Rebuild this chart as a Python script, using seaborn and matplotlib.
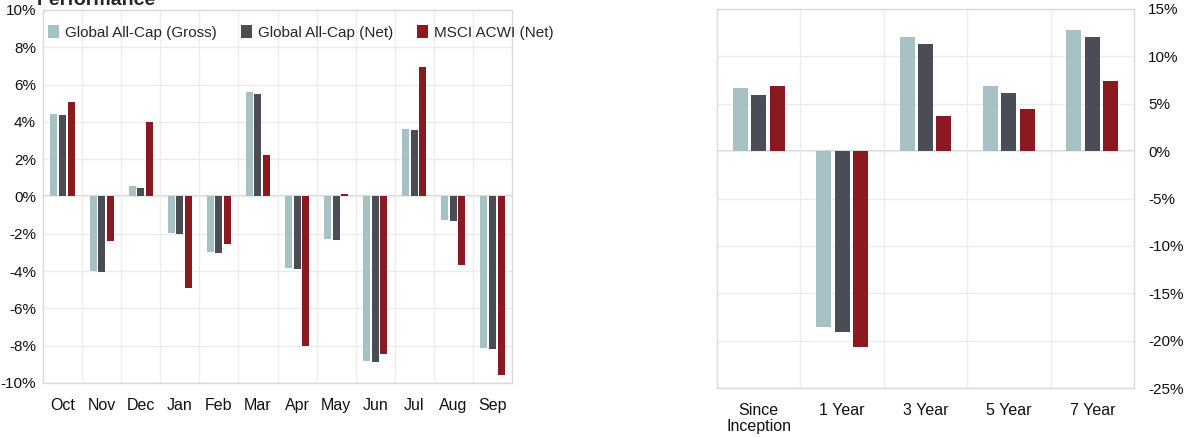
import numpy as np
import pandas as pd
import seaborn as sns
import matplotlib.pyplot as plt
from matplotlib import font_manager
from matplotlib.ticker import FuncFormatter, FixedLocator

sns.set_style('white')
names = {f.name for f in font_manager.fontManager.ttflist}
narrow = 'Liberation Sans Narrow' in names
plt.rcParams['font.family'] = ['Liberation Sans Narrow' if narrow else 'Liberation Sans', 'DejaVu Sans']
fs = 12.5 if narrow else 11

# monthly returns (%)
months = ['Oct', 'Nov', 'Dec', 'Jan', 'Feb', 'Mar', 'Apr', 'May', 'Jun', 'Jul', 'Aug', 'Sep']
gross_m = [4.41, -3.99, 0.54, -1.95, -2.95, 5.58, -3.83, -2.27, -8.83, 3.61, -1.25, -8.15]
net_m = [4.36, -4.04, 0.46, -2.00, -3.02, 5.52, -3.88, -2.33, -8.89, 3.57, -1.31, -8.20]
msci_m = [5.09, -2.41, 4.00, -4.90, -2.56, 2.20, -7.99, 0.12, -8.42, 6.97, -3.67, -9.56]

# annualised returns (%)
periods = ['Since\nInception', '1 Year', '3 Year', '5 Year', '7 Year']
gross_p = [6.70, -18.6, 12.0, 6.88, 12.8]
net_p = [5.93, -19.1, 11.3, 6.18, 12.04]
msci_p = [6.88, -20.7, 3.72, 4.42, 7.40]

series = ['Global All-Cap (Gross)', 'Global All-Cap (Net)', 'MSCI ACWI (Net)']
colors = ['#A6C1C4', '#4A4D56', '#8A1A20']


def long_df(cats, *vals):
    rows = []
    for name, v in zip(series, vals):
        for c, x in zip(cats, v):
            rows.append({'cat': c, 'series': name, 'value': x})
    return pd.DataFrame(rows)


df_m = long_df(months, gross_m, net_m, msci_m)
df_p = long_df(periods, gross_p, net_p, msci_p)

W, H = 1184, 437
fig = plt.figure(figsize=(W / 100, H / 100), dpi=100)
ax1 = fig.add_axes([43 / W, (H - 383) / H, 469 / W, 373 / H])
ax2 = fig.add_axes([717 / W, (H - 388) / H, 417 / W, 379 / H])

pct = FuncFormatter(lambda v, p: f'{v:.0f}%')
grid_c = '#ECECEC'
frame_c = '#D9D9D9'

for ax, df, n, ylim, step in [(ax1, df_m, 12, (-10, 10), 2), (ax2, df_p, 5, (-25, 15), 5)]:
    sns.barplot(data=df, x='cat', y='value', hue='series', palette=colors, saturation=1,
                width=0.66, gap=0.18, linewidth=0, ax=ax, legend=(ax is ax1))
    ax.set_ylim(*ylim)
    ax.set_xlim(-0.5, n - 0.5)
    ax.set_yticks(np.arange(ylim[0], ylim[1] + 0.1, step))
    ax.yaxis.set_major_formatter(pct)
    ax.xaxis.set_minor_locator(FixedLocator(np.arange(0.5, n - 0.5, 1)))
    ax.grid(True, which='major', axis='y', color=grid_c, lw=1)
    ax.grid(True, which='minor', axis='x', color=grid_c, lw=1)
    ax.set_axisbelow(True)
    ax.axhline(0, color='#D0D0D0', lw=1.2, zorder=0.5)
    ax.set_xlabel('')
    ax.set_ylabel('')
    for s in ax.spines.values():
        s.set_color(frame_c)
        s.set_linewidth(1)
    ax.tick_params(axis='both', which='both', length=0, labelsize=fs, colors='#111111')
    ax.tick_params(axis='x', pad=11, labelsize=fs + 0.5)

ax1.tick_params(axis='y', pad=5)
ax2.yaxis.tick_right()
ax2.tick_params(axis='y', pad=10)
for lbl in ax2.get_xticklabels():
    lbl.set_linespacing(1.1)

handles, labels = ax1.get_legend_handles_labels()
ax1.legend(handles, labels, loc='upper center', bbox_to_anchor=(0.55, 1.0), ncol=3, frameon=False,
           fontsize=fs, handlelength=0.7, handleheight=0.9, handletextpad=0.4, columnspacing=1.6,
           borderaxespad=0.6)

fig.text(37 / W, 1 - 5 / H, 'Performance', fontsize=14, fontweight='bold', va='baseline', ha='left')

fig.savefig('out.png', dpi=100)
